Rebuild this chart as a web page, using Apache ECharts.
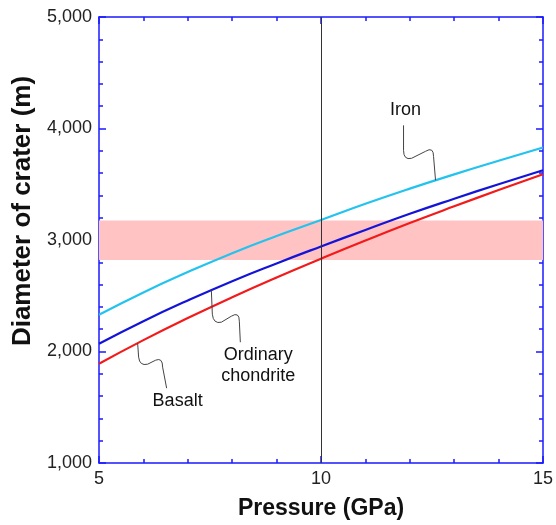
<!DOCTYPE html>
<html>
<head>
<meta charset="utf-8">
<script src="https://cdn.jsdelivr.net/npm/echarts@6/dist/echarts.min.js"></script>
<style>
html,body{margin:0;padding:0;background:#fff;}
#chart{width:556px;height:525px;}
</style>
</head>
<body>
<div id="chart"></div>
<script>
// ---- data ----
var pressure = [5, 6, 7, 8, 9, 10, 11, 12, 13, 14, 15];
var iron = [2330, 2530, 2712, 2882, 3036, 3180, 3325, 3461, 3589, 3711, 3830];
var chondrite = [2070, 2272, 2458, 2631, 2790, 2942, 3090, 3235, 3370, 3500, 3625];
var basalt = [1890, 2102, 2300, 2487, 2664, 2832, 2995, 3152, 3302, 3448, 3590];
var band = [2820, 3175];
var refPressure = 10;
var xTicks = [5, 10, 15];
var yTicks = [1000, 2000, 3000, 4000, 5000];

function pairs(xs, ys){ return xs.map(function(x,i){ return [x, ys[i]]; }); }
function interp(xs, ys, x){
  for (var i=0;i<xs.length-1;i++){
    if (x>=xs[i] && x<=xs[i+1]){
      var t=(x-xs[i])/(xs[i+1]-xs[i]); return ys[i]+t*(ys[i+1]-ys[i]);
    }
  }
  return ys[ys.length-1];
}

var AX = '#1a1aff';
var FONT = 'Liberation Sans, Arial, sans-serif';
var chart = echarts.init(document.getElementById('chart'));

function axisCommon(){
  return {
    axisLine:{show:true,lineStyle:{color:AX,width:1.5}},
    axisTick:{show:true,inside:true,length:7,lineStyle:{color:AX,width:1.5}},
    minorTick:{show:true,splitNumber:5,length:4,lineStyle:{color:AX,width:1.5}},
    splitLine:{show:false}
  };
}

var xa = Object.assign(axisCommon(),{type:'value',min:xTicks[0],max:xTicks[xTicks.length-1],interval:xTicks[1]-xTicks[0],
  position:'bottom',
  axisLabel:{color:'#222',fontSize:18,fontFamily:FONT,margin:7},
  name:'Pressure (GPa)',nameLocation:'middle',nameGap:34,
  nameTextStyle:{fontSize:23,fontWeight:'bold',color:'#111',fontFamily:FONT}});
var xa2 = Object.assign(axisCommon(),{type:'value',min:xTicks[0],max:xTicks[xTicks.length-1],interval:xTicks[1]-xTicks[0],position:'top',axisLabel:{show:false}});
var ya = Object.assign(axisCommon(),{type:'value',min:yTicks[0],max:yTicks[yTicks.length-1],interval:yTicks[1]-yTicks[0],
  position:'left',
  axisLabel:{color:'#222',fontSize:18,fontFamily:FONT,margin:7,formatter:function(v){return v.toLocaleString('en-US');}},
  name:'Diameter of crater (m)',nameLocation:'middle',nameGap:59,
  nameTextStyle:{fontSize:26,fontWeight:'bold',color:'#111',fontFamily:FONT,padding:[0,0,0,58]}});
var ya2 = Object.assign(axisCommon(),{type:'value',min:yTicks[0],max:yTicks[yTicks.length-1],interval:yTicks[1]-yTicks[0],position:'right',axisLabel:{show:false}});

chart.setOption({
  animation:false,
  backgroundColor:'#fff',
  grid:{left:99,right:11,top:17,bottom:60,containLabel:false},
  xAxis:[xa, xa2],
  yAxis:[ya, ya2],
  series:[
    {type:'line',name:'band',data:[],silent:true,
     markArea:{silent:true,itemStyle:{color:'#ffc3c3',opacity:1},data:[[{yAxis:band[0]},{yAxis:band[1]}]]},
     markLine:{silent:true,symbol:['none','none'],label:{show:false},lineStyle:{color:'#333',width:1,type:'solid'},data:[{xAxis:refPressure}]},
     z:1},
    {type:'line',name:'Basalt',data:pairs(pressure,basalt),smooth:true,showSymbol:false,lineStyle:{color:'#f21a1a',width:2.2},z:3},
    {type:'line',name:'Ordinary chondrite',data:pairs(pressure,chondrite),smooth:true,showSymbol:false,lineStyle:{color:'#1414d8',width:2.2},z:4},
    {type:'line',name:'Iron',data:pairs(pressure,iron),smooth:true,showSymbol:false,lineStyle:{color:'#22c3ee',width:2.2},z:3}
  ]
});

// ---- annotations (leaders anchored at curve points) ----
var notes = [
  {text:'Iron', p:12.58, ys:iron,
   path:[[-32,-55],[-32,-30],[-32,-20],[-24,-22],[-10,-29],[-2,-34],[-2,-24],[0,0]],
   label:[-30,-70]},
  {text:'Ordinary\nchondrite', p:7.53, ys:chondrite,
   path:[[0,0],[1,24],[2,34],[10,32],[20,26],[28,21],[28,31],[29,52]],
   label:[47,75]},
  {text:'Basalt', p:5.87, ys:basalt,
   path:[[0,0],[1,14],[2,23],[10,21],[18,17],[25,14],[25,24],[29,45]],
   label:[40,58]}
];
var gfx = [];
var LS = {stroke:'#444',lineWidth:1,fill:null};
notes.forEach(function(n){
  var a = chart.convertToPixel({xAxisIndex:0,yAxisIndex:0},[n.p, interp(pressure,n.ys,n.p)]);
  var q = n.path.map(function(o){return [a[0]+o[0], a[1]+o[1]];});
  gfx.push({type:'line',shape:{x1:q[0][0],y1:q[0][1],x2:q[1][0],y2:q[1][1]},style:LS,z:10,silent:true});
  gfx.push({type:'bezierCurve',shape:{x1:q[1][0],y1:q[1][1],cpx1:q[2][0],cpy1:q[2][1],x2:q[3][0],y2:q[3][1]},style:LS,z:10,silent:true});
  gfx.push({type:'line',shape:{x1:q[3][0],y1:q[3][1],x2:q[4][0],y2:q[4][1]},style:LS,z:10,silent:true});
  gfx.push({type:'bezierCurve',shape:{x1:q[4][0],y1:q[4][1],cpx1:q[5][0],cpy1:q[5][1],x2:q[6][0],y2:q[6][1]},style:LS,z:10,silent:true});
  gfx.push({type:'line',shape:{x1:q[6][0],y1:q[6][1],x2:q[7][0],y2:q[7][1]},style:LS,z:10,silent:true});
  gfx.push({type:'text',x:a[0]+n.label[0],y:a[1]+n.label[1],z:10,silent:true,
    style:{text:n.text,fill:'#111',fontSize:18,fontFamily:FONT,align:'center',verticalAlign:'middle',lineHeight:21}});
});
chart.setOption({graphic:{elements:gfx}});
</script>
</body>
</html>
